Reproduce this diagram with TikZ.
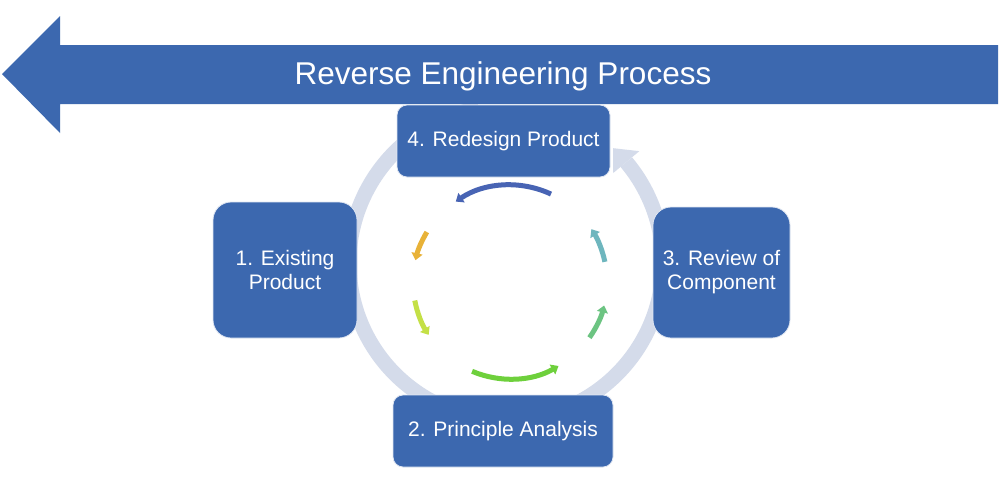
\documentclass[tikz,border=0pt]{standalone}
\usepackage{fontspec}
\setmainfont{Liberation Sans}
\usetikzlibrary{arrows.meta}
\definecolor{boxblue}{RGB}{60,104,175}
\definecolor{ringgray}{RGB}{212,219,234}
\definecolor{cblue}{RGB}{72,100,180}
\definecolor{corange}{RGB}{232,178,56}
\definecolor{cyg}{RGB}{196,224,70}
\definecolor{cgreen}{RGB}{110,208,60}
\definecolor{csea}{RGB}{108,196,130}
\definecolor{cteal}{RGB}{110,182,190}
\tikzset{
  stepbox/.style={fill=boxblue, draw=white!85!boxblue, line width=0.8pt, text=white,
    align=center, inner sep=0pt, font=\fontsize{21}{24}\selectfont},
  smallarrow/.style={line width=5pt, -{Triangle[length=7pt,width=11pt]}},
}
\begin{document}
\begin{tikzpicture}[x=1pt,y=-1pt]
\useasboundingbox (0,0) rectangle (1000,485);
\fill[white] (0,0) rectangle (1000,485);
% big ring arrow
\draw[ringgray, line width=15pt] ({506+157*cos(100)},{263-157*sin(100)})
  arc[start angle=-100, end angle=-400, radius=157];
\fill[ringgray] ({506+140*cos(40)},{263-140*sin(40)}) -- ({506+157*cos(47)},{263-157*sin(47)})
  -- ({506+174*cos(40)},{263-174*sin(40)}) -- cycle;
% title arrow
\fill[boxblue] (2,74) -- (60,16) -- (60,45) -- (998,45) -- (998,104) -- (60,104) -- (60,133) -- cycle;
\node[text=white, anchor=base, font=\fontsize{31.5}{36}\selectfont] (title) at (503,84) {Reverse Engineering Process};
% boxes
\node[stepbox, minimum width=144pt, minimum height=136pt, rounded corners=18pt] (b1) at (285,270) {1. Existing\\Product};
\node[stepbox, minimum width=220pt, minimum height=72pt, rounded corners=10pt] (b2) at (503,431) {2. Principle Analysis};
\node[stepbox, minimum width=137pt, minimum height=131pt, rounded corners=18pt] (b3) at (721.5,272.5) {3. Review of\\Component};
\node[stepbox, minimum width=213pt, minimum height=72pt, rounded corners=10pt] (b4) at (503.5,141) {4. Redesign Product};
% small inner arrows
\draw[smallarrow, cblue] ({510+97*cos(65)},{282-97*sin(65)}) arc[start angle=-65, end angle=-124, radius=97];
\draw[smallarrow, corange] ({510+97*cos(149)},{282-97*sin(149)}) arc[start angle=-149, end angle=-167, radius=97];
\draw[smallarrow, cyg] ({510+97*cos(191)},{282-97*sin(191)}) arc[start angle=-191, end angle=-213, radius=97];
\draw[smallarrow, cgreen] ({510+97*cos(247)},{282-97*sin(247)}) arc[start angle=-247, end angle=-300, radius=97];
\draw[smallarrow, csea] ({510+97*cos(325)},{282-97*sin(325)}) arc[start angle=-325, end angle=-346, radius=97];
\draw[smallarrow, cteal] ({510+97*cos(12)},{282-97*sin(12)}) arc[start angle=-12, end angle=-33, radius=97];
\end{tikzpicture}
\end{document}
